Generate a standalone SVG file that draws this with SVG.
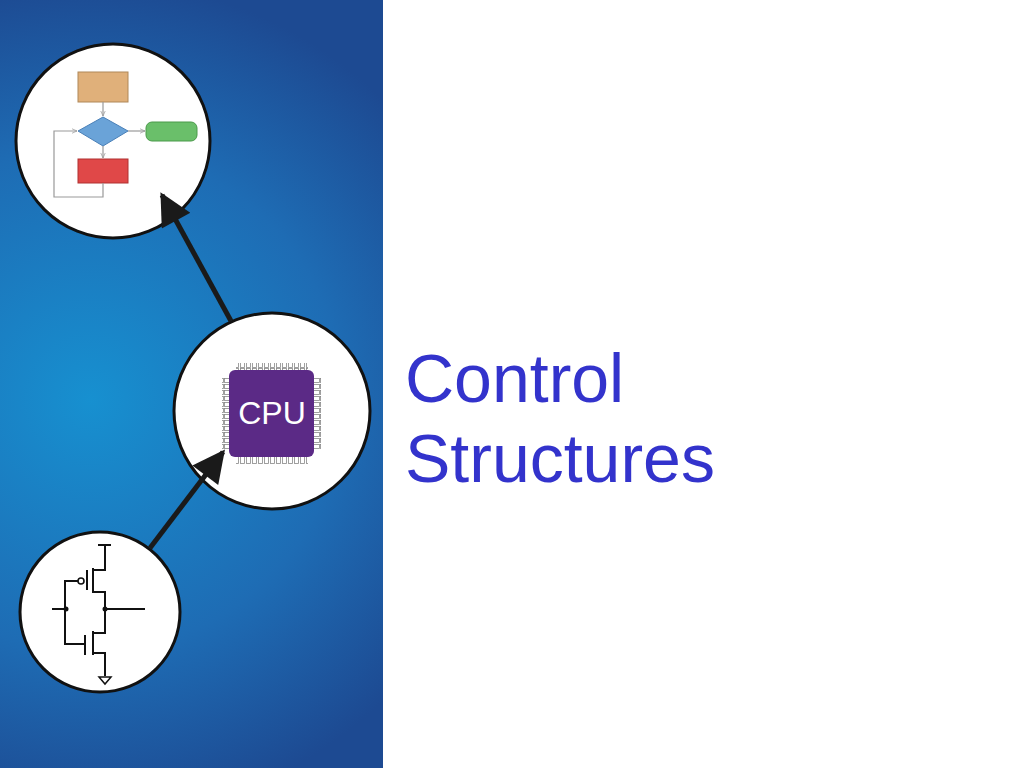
<svg xmlns="http://www.w3.org/2000/svg" width="1024" height="768" viewBox="0 0 1024 768">
<defs>
<radialGradient id="bg" cx="90" cy="400" r="420" gradientUnits="userSpaceOnUse">
<stop offset="0" stop-color="#1790d0"/><stop offset="0.6" stop-color="#1e6cb4"/><stop offset="1" stop-color="#1d4a92"/>
</radialGradient>
<marker id="ah" viewBox="0 0 10 10" refX="9" refY="5" markerWidth="7" markerHeight="6.5" orient="auto" markerUnits="strokeWidth"><path d="M0,0L10,5L0,10z" fill="#1a1a1a"/></marker>
<marker id="fa" viewBox="0 0 10 10" refX="9" refY="5" markerWidth="6" markerHeight="6" orient="auto" markerUnits="userSpaceOnUse"><path d="M0,1L9,5L0,9" fill="none" stroke="#999" stroke-width="1.2"/></marker>
<pattern id="pinh" x="0" y="0" width="6" height="8" patternUnits="userSpaceOnUse"><rect x="0.5" y="0.5" width="4" height="7" fill="#fff" stroke="#888" stroke-width="0.8"/></pattern>
<pattern id="pinv" x="0" y="0" width="8" height="6" patternUnits="userSpaceOnUse"><rect x="0.5" y="0.5" width="7" height="4" fill="#fff" stroke="#888" stroke-width="0.8"/></pattern>
</defs>
<style>
.circ{fill:#fff;stroke:#111;stroke-width:3}
.fl{stroke:#999;stroke-width:1.2;fill:none}
.w{stroke:#111;stroke-width:2;fill:none}
.title{font-family:"Liberation Sans",Arial,sans-serif;font-size:68px;fill:#3333cc}
</style>
<rect width="1024" height="768" fill="#fff"/>
<rect x="0" y="0" width="383" height="768" fill="url(#bg)"/>
<g id="flow">
<circle class="circ" cx="113" cy="141" r="97"/>
<rect x="78" y="72" width="50" height="30" fill="#e0b07a" stroke="#b08858"/>
<path d="M103,117L128,131L103,146L78,131z" fill="#6aa3d8" stroke="#4a80b8"/>
<rect x="146" y="122" width="51" height="19" rx="6" fill="#6abf6a" stroke="#4a9a4a"/>
<rect x="78" y="159" width="50" height="24" fill="#e04848" stroke="#b03030"/>
<path class="fl" d="M103,102V116" marker-end="url(#fa)"/>
<path class="fl" d="M103,146V158" marker-end="url(#fa)"/>
<path class="fl" d="M128,131H145" marker-end="url(#fa)"/>
<path class="fl" d="M103,183V197H54V131H77" marker-end="url(#fa)"/>
</g>
<g id="cpu">
<circle class="circ" cx="272" cy="411" r="98"/>
<rect x="236" y="363" width="72" height="8" fill="url(#pinh)"/>
<rect x="236" y="456" width="72" height="8" fill="url(#pinh)"/>
<rect x="222" y="377" width="8" height="72" fill="url(#pinv)"/>
<rect x="313" y="377" width="8" height="72" fill="url(#pinv)"/>
<rect x="229" y="370" width="85" height="87" rx="6" fill="#5b2a86"/>
<text x="272" y="424" text-anchor="middle" font-family="'Liberation Sans',Arial,sans-serif" font-size="32" fill="#fff">CPU</text>
</g>
<g id="inverter">
<circle class="circ" cx="100" cy="612" r="80"/>
<path class="w" d="M98,545H111M105,545V570H93M93,568V593M93,592H105V633H93M93,631V655M93,653H105V676"/>
<path class="w" d="M87,570V590M85,635V655"/>
<circle cx="81" cy="581" r="3" fill="#fff" stroke="#111" stroke-width="1.6"/>
<path class="w" d="M78,581H65V644H85M52,609H65M105,609H145"/>
<circle cx="66" cy="609" r="2.5" fill="#111"/>
<circle cx="105" cy="609" r="2.5" fill="#111"/>
<path d="M99,677H111L105,684z" fill="#fff" stroke="#111" stroke-width="1.5"/>
</g>
<g id="connectors">
<line x1="231" y1="321" x2="162" y2="195" stroke="#1a1a1a" stroke-width="5" marker-end="url(#ah)"/>
<line x1="150" y1="548" x2="223" y2="452" stroke="#1a1a1a" stroke-width="5" marker-end="url(#ah)"/>
</g>
<text class="title" x="405" y="402">Control</text>
<text class="title" x="405" y="482">Structures</text>
</svg>
